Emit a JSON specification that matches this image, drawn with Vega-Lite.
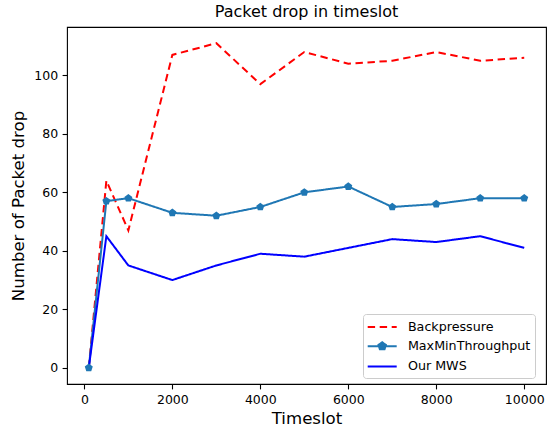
{
  "$schema": "https://vega.github.io/schema/vega-lite/v6.json",
  "width": 479,
  "height": 357,
  "autosize": "none",
  "padding": {"left": 67, "top": 27, "right": 1, "bottom": 48},
  "background": "white",
  "title": {"text": "Packet drop in timeslot", "font": "DejaVu Sans", "fontSize": 16, "fontWeight": "normal", "color": "black", "offset": 7},
  "config": {
    "view": {"stroke": "black", "strokeWidth": 1.1},
    "axis": {
      "domain": false, "grid": false, "tickColor": "black", "tickSize": 4.9, "tickWidth": 1.1,
      "labelFont": "DejaVu Sans", "labelFontSize": 12.5, "labelColor": "black", "labelPadding": 4.5,
      "titleFont": "DejaVu Sans", "titleFontSize": 16.6, "titleFontWeight": "normal", "titleColor": "black"
    },
    "legend": {
      "orient": "none", "legendX": 296, "legendY": 287, "padding": 4,
      "labelFont": "DejaVu Sans", "labelFontSize": 12.7, "labelColor": "black",
      "symbolSize": 256, "symbolStrokeWidth": 2, "symbolOffset": 6.2, "labelOffset": 16.7, "rowPadding": 3.2,
      "strokeColor": "#cccccc", "fillColor": "rgba(255,255,255,0.8)", "cornerRadius": 3
    }
  },
  "data": {"values": [
    {"t": 100, "s": "Backpressure", "v": 0},
    {"t": 500, "s": "Backpressure", "v": 64},
    {"t": 1000, "s": "Backpressure", "v": 47},
    {"t": 2000, "s": "Backpressure", "v": 107},
    {"t": 3000, "s": "Backpressure", "v": 111},
    {"t": 4000, "s": "Backpressure", "v": 97},
    {"t": 5000, "s": "Backpressure", "v": 108},
    {"t": 6000, "s": "Backpressure", "v": 104},
    {"t": 7000, "s": "Backpressure", "v": 105},
    {"t": 8000, "s": "Backpressure", "v": 108},
    {"t": 9000, "s": "Backpressure", "v": 105},
    {"t": 10000, "s": "Backpressure", "v": 106},
    {"t": 100, "s": "MaxMinThroughput", "v": 0},
    {"t": 500, "s": "MaxMinThroughput", "v": 57},
    {"t": 1000, "s": "MaxMinThroughput", "v": 58},
    {"t": 2000, "s": "MaxMinThroughput", "v": 53},
    {"t": 3000, "s": "MaxMinThroughput", "v": 52},
    {"t": 4000, "s": "MaxMinThroughput", "v": 55},
    {"t": 5000, "s": "MaxMinThroughput", "v": 60},
    {"t": 6000, "s": "MaxMinThroughput", "v": 62},
    {"t": 7000, "s": "MaxMinThroughput", "v": 55},
    {"t": 8000, "s": "MaxMinThroughput", "v": 56},
    {"t": 9000, "s": "MaxMinThroughput", "v": 58},
    {"t": 10000, "s": "MaxMinThroughput", "v": 58},
    {"t": 100, "s": "Our MWS", "v": 0},
    {"t": 500, "s": "Our MWS", "v": 45},
    {"t": 1000, "s": "Our MWS", "v": 35},
    {"t": 2000, "s": "Our MWS", "v": 30},
    {"t": 3000, "s": "Our MWS", "v": 35},
    {"t": 4000, "s": "Our MWS", "v": 39},
    {"t": 5000, "s": "Our MWS", "v": 38},
    {"t": 6000, "s": "Our MWS", "v": 41},
    {"t": 7000, "s": "Our MWS", "v": 44},
    {"t": 8000, "s": "Our MWS", "v": 43},
    {"t": 9000, "s": "Our MWS", "v": 45},
    {"t": 10000, "s": "Our MWS", "v": 41}
  ]},
  "encoding": {
    "x": {"field": "t", "type": "quantitative", "title": "Timeslot",
      "scale": {"domain": [-395, 10495], "nice": false, "zero": false},
      "axis": {"values": [0, 2000, 4000, 6000, 8000, 10000], "format": "d", "titlePadding": 4.5}},
    "y": {"field": "v", "type": "quantitative", "title": "Number of Packet drop",
      "scale": {"domain": [-5.55, 116.55], "nice": false, "zero": false},
      "axis": {"values": [0, 20, 40, 60, 80, 100], "format": "d", "titlePadding": 7}},
    "color": {"field": "s", "type": "nominal",
      "scale": {"domain": ["Backpressure", "MaxMinThroughput", "Our MWS"], "range": ["#ff0000", "#1f77b4", "#0000ff"]},
      "legend": {"title": null, "encode": {"symbols": {"update": {"fill": {"value": "#1f77b4"}}}}}}
  },
  "layer": [
    {
      "mark": {"type": "line", "strokeWidth": 2},
      "encoding": {
        "strokeDash": {"field": "s", "type": "nominal",
          "scale": {"domain": ["Backpressure", "MaxMinThroughput", "Our MWS"], "range": [[7.4, 4.6], [1, 0], [1, 0]]},
          "legend": {"title": null}}
      }
    },
    {
      "transform": [{"filter": "datum.s === 'MaxMinThroughput'"}],
      "mark": {"type": "point", "filled": true, "size": 294, "opacity": 1, "strokeWidth": 0},
      "encoding": {
        "shape": {"field": "s", "type": "nominal",
          "scale": {"domain": ["Backpressure", "MaxMinThroughput", "Our MWS"], "range": [
            "M-1.8125,0L1.8125,0",
            "M-1.8125,0L1.8125,0M0,-0.49L0.466,-0.151L0.288,0.396L-0.288,0.396L-0.466,-0.151Z",
            "M-1.8125,0L1.8125,0"]},
          "legend": {"title": null}}
      }
    }
  ]
}
